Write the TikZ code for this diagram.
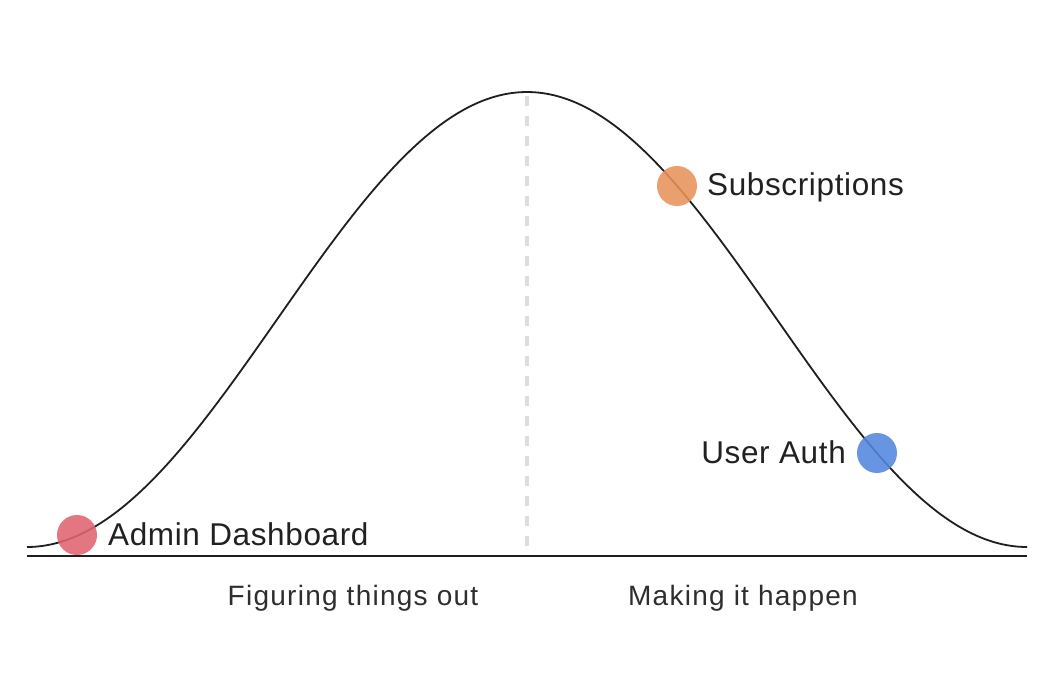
\documentclass[tikz,border=0pt]{standalone}
\usepackage{fontspec}
\setmainfont{Liberation Sans}
\newfontfamily\topfont[LetterSpace=2]{Liberation Sans}
\newfontfamily\bottomfont[LetterSpace=4.5]{Liberation Sans}
\begin{document}
\begin{tikzpicture}[x=1pt,y=-1pt,
  dot/.style={circle,minimum size=40pt,inner sep=0pt,fill opacity=0.88},
  toplabel/.style={inner sep=0pt,text=black!87,font=\topfont\fontsize{31.5}{36}\selectfont},
  botlabel/.style={inner sep=0pt,text=black!82,font=\bottomfont\fontsize{28}{32}\selectfont}]
\definecolor{dotred}{HTML}{E0646F}
\definecolor{dotorange}{HTML}{E8935A}
\definecolor{dotblue}{HTML}{5387DE}
\definecolor{dashgray}{HTML}{DDDDDD}
\useasboundingbox (0,0) rectangle (1064,678);
\fill[white] (0,0) rectangle (1064,678);
% dashed middle line
\coordinate (dtop) at (527,96);
\coordinate (dbot) at (527,548);
\draw[dashgray,line width=3.5pt,dash pattern=on 10pt off 10pt] (dtop) -- (dbot);
% curve
\draw[black!88,line width=1.8pt] plot[domain=27:1027,samples=240,smooth] (\x,{547-227.5*(1+cos((\x-527)/500*180))});
% baseline
\coordinate (bl) at (27,556);
\coordinate (br) at (1027,556);
\draw[black!88,line width=2.4pt] (bl) -- (br);
% dots
\node[dot,fill=dotred] (admin) at (77,535) {};
\node[dot,fill=dotorange] (subs) at (677,186) {};
\node[dot,fill=dotblue] (auth) at (877,453) {};
% labels
\node[toplabel,anchor=base west] (adminlbl) at (108,545) {Admin Dashboard};
\node[toplabel,anchor=base west] (subslbl) at (707,195) {Subscriptions};
\node[toplabel,anchor=base east] (authlbl) at (846,463) {User Auth};
\node[botlabel,anchor=base] (fig) at (353,605) {Figuring things out};
\node[botlabel,anchor=base] (mak) at (743,605) {Making it happen};
\end{tikzpicture}
\end{document}
